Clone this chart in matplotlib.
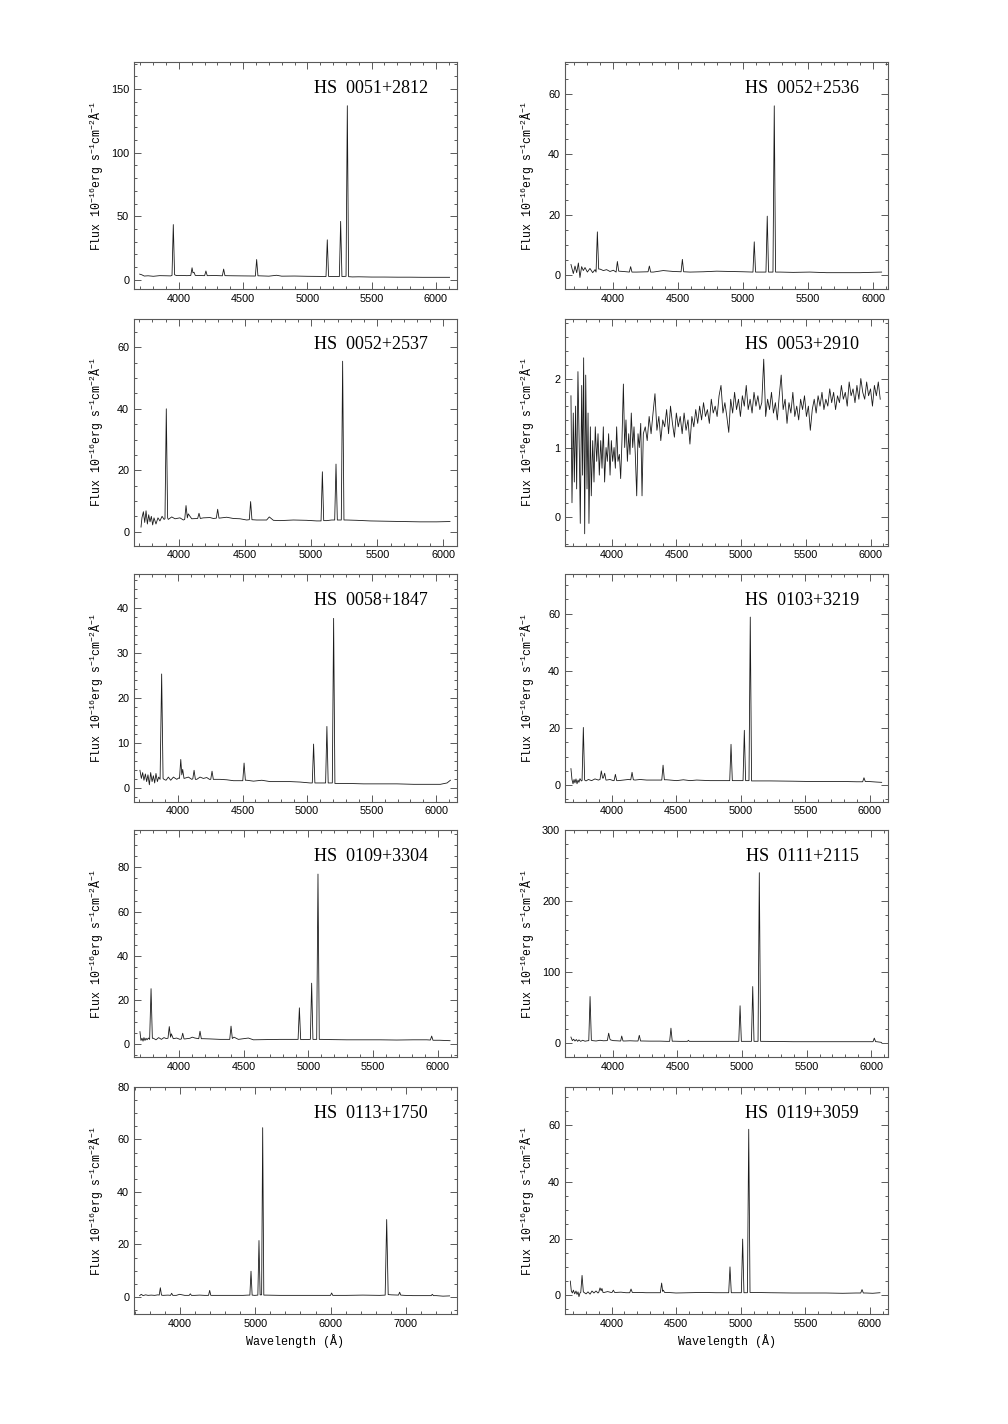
import matplotlib
matplotlib.use("Agg")
import matplotlib.pyplot as plt
from matplotlib.ticker import MultipleLocator

plt.rcParams['font.family'] = 'Liberation Sans'
plt.rcParams['mathtext.default'] = 'regular'

# spectra: (wavelength in A, flux in 1e-16 erg/s/cm2/A)
hs0051_2812 = [
    (3694, 4.5), (3710, 4.0), (3730, 3.0), (3760, 3.2), (3800, 2.8), (3850, 3.3), (3900, 3.2),
    (3935, 3.1), (3946, 3.5), (3956, 43.5), (3966, 4.0), (3980, 3.4), (4020, 3.5), (4060, 3.3),
    (4092, 3.4), (4102, 9.5), (4109, 5.5), (4117, 6.0), (4127, 3.5), (4160, 3.4), (4200, 3.3),
    (4210, 7.0), (4220, 3.3), (4280, 3.4), (4338, 3.2), (4348, 8.5), (4358, 3.3), (4420, 3.2),
    (4500, 3.1), (4595, 3.0), (4605, 16.0), (4615, 3.2), (4700, 2.9), (4760, 3.6), (4800, 2.9),
    (4900, 3.0), (5000, 2.8), (5100, 2.7), (5145, 2.6), (5155, 31.5), (5165, 2.7), (5249, 2.6),
    (5259, 46.0), (5269, 2.6), (5301, 2.8), (5311, 137.0), (5321, 2.5), (5350, 2.3), (5400, 2.4),
    (5500, 2.2), (5600, 2.2), (5700, 2.1), (5800, 2.1), (5900, 2.0), (6000, 2.0), (6107, 2.0)]

hs0052_2536 = [
    (3676, 3.5), (3694, 0.5), (3707, 3.0), (3720, 0.8), (3733, 4.0), (3745, -0.8), (3758, 2.8),
    (3771, 1.5), (3784, 2.5), (3802, 1.0), (3822, 2.2), (3843, 0.8), (3861, 1.8), (3869, 1.0),
    (3879, 14.3), (3889, 2.0), (3899, 2.0), (3925, 1.5), (3950, 1.8), (3976, 1.2), (4002, 1.6),
    (4023, 1.0), (4033, 4.5), (4043, 1.3), (4079, 1.2), (4125, 1.0), (4135, 2.8), (4145, 1.0),
    (4181, 1.0), (4269, 1.1), (4279, 3.0), (4289, 1.0), (4309, 1.0), (4386, 1.5), (4463, 1.2),
    (4523, 1.1), (4533, 5.2), (4543, 1.1), (4592, 1.0), (4694, 1.1), (4797, 1.3), (4899, 1.2),
    (5002, 1.1), (5076, 1.0), (5086, 11.0), (5096, 1.0), (5130, 1.0), (5176, 1.0), (5186, 19.5),
    (5196, 1.0), (5230, 1.0), (5240, 56.0), (5250, 1.0), (5284, 1.0), (5386, 0.9), (5514, 1.0),
    (5643, 0.8), (5771, 0.8), (5899, 0.8), (5976, 0.9), (6066, 1.0)]

hs0052_2537 = [
    (3715, 1.5), (3722, 4.5), (3733, 6.5), (3743, 3.0), (3753, 6.8), (3763, 2.5), (3773, 5.5),
    (3783, 3.2), (3793, 5.0), (3803, 2.2), (3813, 4.5), (3828, 2.5), (3843, 4.5), (3858, 3.5),
    (3874, 5.0), (3889, 4.0), (3896, 4.2), (3906, 40.0), (3916, 4.5), (3921, 4.0), (3947, 4.8),
    (3972, 4.2), (4009, 4.5), (4035, 3.8), (4045, 4.0), (4055, 8.5), (4065, 4.5), (4072, 5.8),
    (4098, 4.2), (4143, 4.3), (4153, 6.0), (4163, 4.3), (4186, 4.5), (4236, 4.6), (4261, 4.3),
    (4284, 4.4), (4294, 7.3), (4304, 4.4), (4324, 4.5), (4362, 4.7), (4412, 4.3), (4463, 4.2),
    (4513, 3.8), (4533, 3.9), (4543, 9.8), (4553, 3.9), (4589, 3.8), (4664, 3.8), (4684, 4.8),
    (4715, 3.7), (4765, 3.6), (4866, 3.8), (4966, 3.7), (5042, 3.5), (5075, 3.5), (5085, 19.5),
    (5095, 3.6), (5118, 3.6), (5155, 3.8), (5178, 3.8), (5188, 22.0), (5198, 3.8), (5228, 3.8),
    (5238, 55.5), (5248, 3.8), (5268, 3.8), (5344, 3.7), (5445, 3.5), (5571, 3.4), (5697, 3.3),
    (5822, 3.2), (5948, 3.2), (6049, 3.3)]

hs0053_2910 = [
    (3686, 1.75), (3694, 0.20), (3704, 1.50), (3712, 0.50), (3722, 1.60), (3730, 0.40),
    (3740, 2.10), (3751, 0.90), (3758, -0.10), (3769, 1.90), (3776, 0.60), (3784, 2.30),
    (3792, -0.25), (3800, 2.05), (3810, 0.40), (3818, 1.50), (3825, -0.10), (3836, 1.30),
    (3843, 0.30), (3854, 1.10), (3864, 0.50), (3874, 1.30), (3885, 0.80), (3895, 1.20),
    (3905, 0.60), (3916, 1.10), (3926, 0.70), (3936, 1.30), (3946, 0.50), (3957, 1.00),
    (3967, 0.80), (3977, 1.20), (3988, 0.60), (3998, 1.10), (4008, 0.80), (4019, 1.00),
    (4029, 0.70), (4039, 1.30), (4049, 0.80), (4060, 0.90), (4070, 0.55), (4080, 1.10),
    (4091, 1.92), (4101, 1.00), (4111, 1.40), (4122, 0.80), (4132, 1.20), (4142, 0.90),
    (4152, 1.50), (4163, 1.00), (4173, 1.30), (4183, 0.90), (4194, 0.30), (4204, 1.20),
    (4214, 1.00), (4225, 1.35), (4235, 0.30), (4245, 1.20), (4260, 1.30), (4275, 1.10),
    (4290, 1.45), (4305, 1.20), (4320, 1.50), (4335, 1.78), (4350, 1.25), (4365, 1.45),
    (4380, 1.10), (4395, 1.40), (4410, 1.30), (4425, 1.55), (4440, 1.20), (4455, 1.60),
    (4470, 1.35), (4485, 1.15), (4500, 1.50), (4515, 1.30), (4530, 1.45), (4545, 1.20),
    (4560, 1.50), (4575, 1.25), (4590, 1.40), (4605, 1.05), (4620, 1.45), (4635, 1.30),
    (4650, 1.55), (4665, 1.35), (4680, 1.60), (4695, 1.40), (4710, 1.65), (4725, 1.45),
    (4740, 1.55), (4755, 1.35), (4770, 1.70), (4785, 1.50), (4800, 1.60), (4815, 1.45),
    (4830, 1.75), (4845, 1.90), (4860, 1.50), (4875, 1.65), (4890, 1.45), (4905, 1.22),
    (4920, 1.70), (4935, 1.50), (4950, 1.80), (4965, 1.55), (4980, 1.70), (4995, 1.45),
    (5010, 1.75), (5025, 1.60), (5040, 1.90), (5055, 1.55), (5070, 1.70), (5085, 1.50),
    (5100, 1.80), (5115, 1.60), (5130, 1.75), (5145, 1.55), (5160, 1.65), (5175, 2.28),
    (5190, 1.45), (5205, 1.70), (5220, 1.55), (5235, 1.80), (5250, 1.50), (5265, 1.65),
    (5280, 1.40), (5295, 1.75), (5310, 2.05), (5325, 1.55), (5340, 1.70), (5355, 1.35),
    (5370, 1.65), (5385, 1.50), (5400, 1.80), (5415, 1.45), (5430, 1.60), (5445, 1.40),
    (5460, 1.70), (5475, 1.55), (5490, 1.75), (5505, 1.45), (5520, 1.60), (5535, 1.25),
    (5550, 1.55), (5565, 1.70), (5580, 1.50), (5595, 1.75), (5610, 1.60), (5625, 1.80),
    (5640, 1.55), (5655, 1.70), (5670, 1.60), (5685, 1.85), (5700, 1.65), (5715, 1.80),
    (5730, 1.55), (5745, 1.75), (5760, 1.65), (5775, 1.90), (5790, 1.70), (5805, 1.80),
    (5820, 1.60), (5835, 1.95), (5850, 1.75), (5865, 1.85), (5880, 1.65), (5895, 1.90),
    (5910, 1.70), (5925, 2.00), (5940, 1.80), (5955, 1.70), (5970, 1.95), (5985, 1.75),
    (6000, 1.85), (6015, 1.60), (6030, 1.90), (6045, 1.75), (6060, 1.95), (6075, 1.70)]

hs0058_1847 = [
    (3706, 4.0), (3717, 2.2), (3727, 3.5), (3737, 1.8), (3748, 3.2), (3758, 1.5), (3768, 3.0),
    (3779, 0.8), (3789, 3.5), (3800, 1.5), (3810, 2.8), (3820, 1.2), (3830, 3.3), (3841, 1.5),
    (3851, 2.5), (3862, 2.0), (3874, 25.3), (3885, 2.2), (3892, 2.0), (3908, 1.8), (3926, 2.5),
    (3944, 1.8), (3965, 2.5), (3991, 2.0), (4006, 2.3), (4012, 2.2), (4022, 6.4), (4030, 3.0),
    (4037, 4.2), (4047, 2.2), (4081, 2.5), (4107, 2.0), (4115, 2.1), (4125, 4.0), (4135, 2.0),
    (4146, 2.0), (4171, 2.5), (4197, 2.2), (4223, 2.4), (4244, 2.0), (4254, 2.0), (4264, 3.8),
    (4274, 2.0), (4288, 2.0), (4326, 2.0), (4378, 1.9), (4430, 1.7), (4481, 1.7), (4502, 1.7),
    (4512, 5.6), (4522, 1.8), (4533, 1.8), (4585, 1.6), (4649, 1.8), (4714, 1.5), (4791, 1.5),
    (4869, 1.5), (4946, 1.4), (5024, 1.2), (5040, 1.2), (5050, 9.8), (5060, 1.2), (5101, 1.2),
    (5143, 1.2), (5153, 13.7), (5163, 1.2), (5179, 1.2), (5195, 1.2), (5205, 37.6), (5215, 1.1),
    (5243, 1.1), (5308, 1.1), (5437, 1.0), (5566, 1.0), (5695, 1.0), (5825, 0.9), (5954, 0.9),
    (6031, 0.9), (6083, 1.2), (6109, 1.8)]

hs0103_3219 = [
    (3686, 5.8), (3694, 2.0), (3702, 0.5), (3710, 2.0), (3717, 0.8), (3725, 2.2), (3733, 0.5),
    (3741, 1.8), (3748, 1.0), (3756, 2.3), (3766, 1.5), (3772, 1.6), (3782, 20.2), (3792, 1.8),
    (3803, 1.5), (3821, 2.0), (3846, 1.6), (3872, 2.2), (3898, 1.8), (3911, 2.0), (3921, 5.0),
    (3931, 2.5), (3937, 2.5), (3947, 4.2), (3957, 1.8), (3963, 1.8), (3988, 2.0), (4014, 1.6),
    (4020, 1.6), (4030, 3.8), (4040, 1.6), (4053, 1.6), (4092, 1.8), (4130, 2.0), (4149, 1.9),
    (4159, 4.5), (4169, 1.9), (4182, 1.8), (4221, 2.0), (4272, 1.8), (4389, 1.8), (4399, 7.0),
    (4409, 1.9), (4427, 1.9), (4504, 1.6), (4556, 1.9), (4608, 1.6), (4659, 1.8), (4762, 1.6),
    (4866, 1.6), (4915, 1.6), (4925, 14.3), (4935, 1.6), (4969, 1.6), (5018, 1.6), (5028, 19.2),
    (5038, 1.6), (5051, 1.6), (5064, 1.6), (5074, 58.8), (5084, 1.5), (5111, 1.5), (5227, 1.5),
    (5407, 1.4), (5536, 1.3), (5665, 1.3), (5794, 1.3), (5898, 1.2), (5944, 1.2), (5954, 2.6),
    (5964, 1.3), (5988, 1.3), (6052, 1.1), (6091, 1.0)]

hs0109_3304 = [
    (3696, 5.5), (3704, 1.5), (3712, 2.5), (3720, 1.2), (3727, 2.8), (3735, 1.5), (3743, 2.5),
    (3751, 1.8), (3761, 2.6), (3771, 2.0), (3782, 25.0), (3792, 2.5), (3800, 2.5), (3820, 1.8),
    (3841, 2.8), (3862, 2.0), (3882, 2.8), (3898, 2.4), (3913, 2.5), (3923, 7.8), (3933, 3.0),
    (3939, 4.5), (3954, 2.3), (3980, 2.6), (4006, 2.0), (4017, 2.2), (4027, 4.8), (4037, 2.2),
    (4045, 2.2), (4083, 2.5), (4101, 3.0), (4122, 2.6), (4151, 2.3), (4161, 5.7), (4171, 2.3),
    (4187, 2.3), (4238, 2.2), (4316, 2.0), (4367, 2.0), (4391, 2.0), (4401, 8.0), (4411, 2.4),
    (4424, 3.0), (4458, 2.0), (4535, 2.6), (4574, 1.8), (4677, 1.9), (4780, 2.0), (4883, 2.0),
    (4920, 2.0), (4930, 16.3), (4940, 1.9), (4961, 1.9), (5015, 2.0), (5025, 27.5), (5035, 2.0),
    (5048, 2.0), (5064, 2.0), (5074, 77.0), (5084, 2.0), (5103, 2.0), (5167, 1.9), (5296, 1.8),
    (5425, 1.8), (5554, 1.8), (5683, 1.7), (5812, 1.8), (5915, 1.8), (5944, 1.7), (5954, 3.5),
    (5964, 1.6), (6018, 1.6), (6096, 1.4)]

hs0111_2115 = [
    (3676, 9.0), (3687, 4.0), (3697, 6.0), (3707, 3.5), (3718, 5.5), (3728, 3.0), (3738, 5.0),
    (3751, 3.0), (3767, 4.5), (3785, 3.2), (3803, 3.8), (3814, 4.0), (3824, 66.0), (3834, 4.5),
    (3844, 4.0), (3870, 3.5), (3901, 4.5), (3927, 3.8), (3953, 4.0), (3958, 4.2), (3968, 14.5),
    (3978, 6.0), (3983, 5.0), (4004, 4.0), (4030, 3.8), (4056, 3.5), (4061, 3.5), (4069, 10.5),
    (4079, 3.5), (4094, 3.5), (4133, 3.8), (4172, 3.5), (4195, 3.5), (4205, 11.5), (4215, 3.5),
    (4231, 3.5), (4288, 3.3), (4365, 3.3), (4417, 3.0), (4440, 3.0), (4450, 21.5), (4460, 3.2),
    (4474, 3.2), (4520, 3.0), (4578, 3.0), (4585, 4.5), (4592, 3.0), (4610, 3.0), (4701, 3.0),
    (4804, 3.0), (4907, 3.0), (4959, 3.0), (4975, 3.0), (4985, 53.0), (4995, 3.0), (5023, 3.0),
    (5073, 3.0), (5083, 80.0), (5093, 3.0), (5109, 3.0), (5124, 3.0), (5134, 240.0), (5144, 3.0),
    (5165, 3.0), (5268, 2.8), (5397, 2.5), (5526, 2.5), (5655, 2.5), (5784, 2.5), (5913, 2.5),
    (5991, 2.5), (6014, 2.5), (6024, 7.5), (6034, 2.5), (6042, 2.5), (6081, 1.5)]

hs0113_1750 = [
    (3464, 0.5), (3486, 1.0), (3509, 0.5), (3544, 0.8), (3575, 0.6), (3619, 0.7), (3663, 0.6),
    (3708, 0.8), (3724, 0.7), (3739, 3.5), (3754, 0.7), (3774, 0.6), (3841, 0.7), (3874, 0.6),
    (3889, 1.4), (3904, 0.6), (3951, 0.6), (3995, 1.0), (4062, 0.6), (4122, 0.6), (4137, 1.2),
    (4152, 0.6), (4195, 0.6), (4261, 0.7), (4328, 0.6), (4379, 0.6), (4394, 2.5), (4409, 0.6),
    (4438, 0.6), (4571, 0.6), (4704, 0.6), (4837, 0.6), (4903, 0.7), (4928, 0.7), (4943, 9.8),
    (4958, 0.7), (4992, 0.6), (5034, 0.7), (5049, 21.5), (5064, 0.8), (5076, 0.8), (5084, 0.8),
    (5098, 64.5), (5113, 0.7), (5138, 0.7), (5324, 0.6), (5545, 0.6), (5767, 0.6), (5943, 0.6),
    (5999, 0.6), (6014, 1.5), (6029, 0.6), (6076, 0.6), (6209, 0.6), (6430, 0.7), (6652, 0.6),
    (6725, 0.7), (6745, 29.5), (6765, 0.9), (6807, 0.8), (6902, 0.7), (6917, 1.8), (6932, 0.7),
    (6984, 0.6), (7094, 0.5), (7271, 0.5), (7336, 0.5), (7351, 1.0), (7366, 0.5), (7404, 0.5),
    (7493, 0.3), (7581, 0.4)]

hs0119_3059 = [
    (3681, 5.0), (3689, 1.5), (3697, 0.8), (3705, 1.8), (3715, 0.5), (3725, 1.5), (3733, 0.3),
    (3741, 1.2), (3748, -0.5), (3756, 0.8), (3762, 1.0), (3772, 7.0), (3782, 1.2), (3787, 1.0),
    (3803, 0.5), (3818, 1.2), (3834, 0.4), (3849, 1.5), (3864, 0.8), (3880, 1.5), (3895, 0.8),
    (3901, 1.0), (3911, 2.6), (3920, 1.6), (3926, 2.4), (3934, 1.0), (3944, 1.0), (3970, 1.3),
    (3996, 1.0), (4004, 1.0), (4014, 1.8), (4024, 1.0), (4035, 1.0), (4073, 1.1), (4112, 0.9),
    (4141, 0.9), (4151, 2.2), (4161, 1.0), (4177, 1.0), (4215, 1.0), (4267, 0.9), (4319, 0.9),
    (4378, 0.9), (4388, 4.3), (4396, 1.4), (4401, 1.8), (4411, 1.0), (4435, 1.0), (4499, 0.8),
    (4602, 0.9), (4706, 1.0), (4809, 0.9), (4886, 0.9), (4907, 0.9), (4917, 10.0), (4927, 0.9),
    (4951, 0.9), (5005, 0.9), (5015, 19.8), (5025, 0.9), (5038, 0.9), (5052, 0.9), (5062, 58.5),
    (5072, 1.0), (5093, 1.0), (5222, 0.9), (5402, 0.8), (5531, 0.8), (5660, 0.8), (5789, 0.7),
    (5892, 0.8), (5929, 0.8), (5939, 2.0), (5949, 0.8), (5970, 0.8), (6021, 0.7), (6078, 0.9)]

names = ["HS  0051+2812", "HS  0052+2536", "HS  0052+2537", "HS  0053+2910",
         "HS  0058+1847", "HS  0103+3219", "HS  0109+3304", "HS  0111+2115",
         "HS  0113+1750", "HS  0119+3059"]
spectra = [hs0051_2812, hs0052_2536, hs0052_2537, hs0053_2910, hs0058_1847,
           hs0103_3219, hs0109_3304, hs0111_2115, hs0113_1750, hs0119_3059]
xlims = [(3650, 6165), (3630, 6115), (3662, 6102), (3640, 6135), (3660, 6160),
         (3640, 6140), (3650, 6150), (3630, 6130), (3389, 7679), (3640, 6140)]
ylims = [(-7.2, 171.4), (-4.6, 70.5), (-4.5, 69.4), (-0.42, 2.87), (-2.9, 47.3),
         (-5.7, 73.7), (-6.0, 97.0), (-19.0, 300.0), (-6.5, 80.0), (-6.6, 73.4)]
x_major = [500, 500, 500, 500, 500, 500, 500, 500, 1000, 500]
x_minor = [100, 100, 100, 100, 100, 100, 100, 100, 200, 100]
y_major = [50, 20, 20, 1, 10, 20, 20, 100, 20, 20]
y_minor = [10, 5, 5, 0.2, 2, 5, 5, 20, 5, 5]

ylabel = "Flux 10$^{-16}$erg s$^{-1}$cm$^{-2}$Å$^{-1}$"

W, H = 1008, 1424
fig = plt.figure(figsize=(W / 100, H / 100), dpi=100)
col_x = [134, 565]
row_top = [62, 318.5, 574.5, 830, 1087]
aw, ah = 323, 227

for i, spec in enumerate(spectra):
    r, c = divmod(i, 2)
    ax = fig.add_axes([col_x[c] / W, 1 - (row_top[r] + ah) / H, aw / W, ah / H])
    wave, flux = zip(*spec)
    ax.plot(wave, flux, color='0.1', lw=0.6)
    ax.set_xlim(*xlims[i])
    ax.set_ylim(*ylims[i])
    ax.xaxis.set_major_locator(MultipleLocator(x_major[i]))
    ax.xaxis.set_minor_locator(MultipleLocator(x_minor[i]))
    ax.yaxis.set_major_locator(MultipleLocator(y_major[i]))
    ax.yaxis.set_minor_locator(MultipleLocator(y_minor[i]))
    ax.tick_params(which='both', direction='in', top=True, right=True,
                   labelsize=7.8, width=0.6, color='0.25', pad=3.5)
    ax.tick_params(which='major', length=5)
    ax.tick_params(which='minor', length=2.5)
    for s in ax.spines.values():
        s.set_linewidth(0.8)
        s.set_color('0.35')
    ax.text(0.91, 0.885, names[i], transform=ax.transAxes, ha='right', va='center',
            family='Liberation Serif', fontsize=13)
    ax.text(-0.115, 0.5, ylabel, transform=ax.transAxes, rotation=90,
            ha='center', va='center', family='Liberation Mono', fontsize=8.3)
    if r == 4:
        ax.set_xlabel('Wavelength (Å)', family='Liberation Mono', fontsize=8.5, labelpad=4)

fig.savefig('out.png', dpi=100)
